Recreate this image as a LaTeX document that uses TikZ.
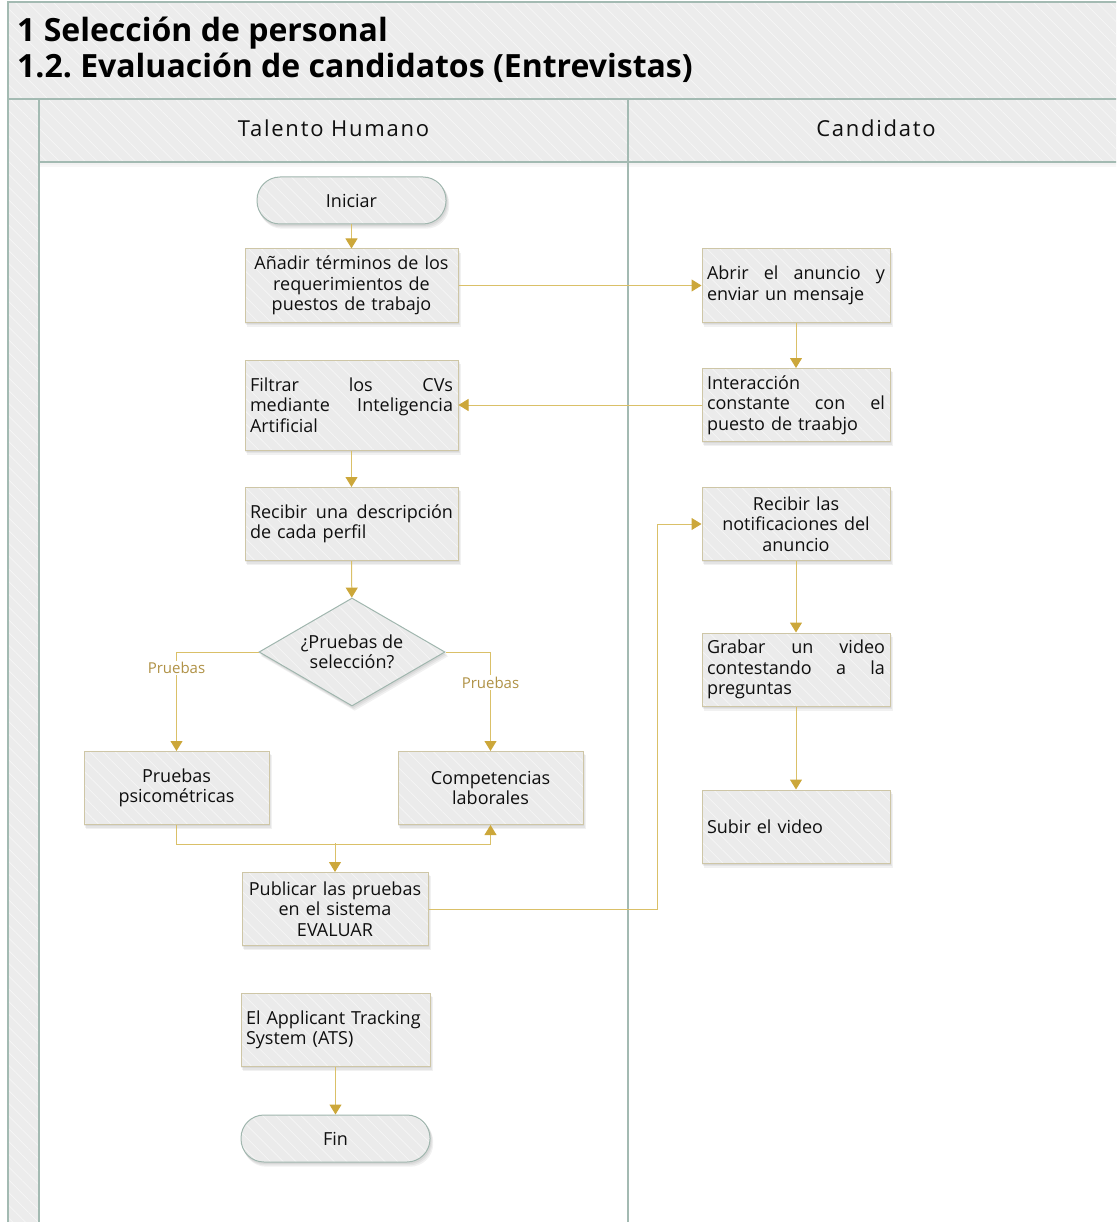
\documentclass[tikz,border=0pt]{standalone}
\usepackage{fontspec}
\setmainfont{Open Sans}
\newfontfamily\hdrfont[LetterSpace=8]{Open Sans}
\usetikzlibrary{shapes.geometric,arrows.meta,patterns.meta,backgrounds}
\frenchspacing

\definecolor{lanec}{RGB}{163,186,178}
\definecolor{panelfill}{RGB}{236,236,236}
\definecolor{nodefill}{RGB}{235,235,235}
\definecolor{hatchc}{RGB}{246,246,246}
\definecolor{boxline}{RGB}{206,198,166}
\definecolor{termline}{RGB}{160,182,174}
\definecolor{connc}{RGB}{218,192,104}
\definecolor{tipc}{RGB}{204,167,58}
\definecolor{labc}{RGB}{176,146,70}
\definecolor{txtc}{RGB}{15,15,15}

\tikzset{
  hatch/.style={postaction={pattern={Lines[angle=-45,distance=9pt,line width=0.7pt]},pattern color=hatchc}},
  panel/.style={fill=panelfill, hatch},
  % filled and hatched first, outline stroked last so the hatch never crosses it
  shapefill/.style={preaction={fill=nodefill},
                    preaction={pattern={Lines[angle=-45,distance=9pt,line width=0.7pt]},pattern color=hatchc}},
  body/.style={font=\fontsize{18}{20.5}\selectfont, text=txtc},
  proc/.style={body, shapefill, draw=boxline, line width=1pt,
               rectangle, inner xsep=5pt, inner ysep=0pt, minimum height=73pt},
  term/.style={body, shapefill, draw=termline, line width=1pt,
               rectangle, rounded corners=23pt, minimum width=189pt, minimum height=47pt, inner sep=0pt},
  decide/.style={body, shapefill, draw=termline, line width=1pt,
               diamond, aspect=1.72, inner sep=0pt, minimum width=186pt, minimum height=108pt, align=center},
  conn/.style={draw=connc, line width=1pt, -{Triangle[width=12pt,length=10pt,fill=tipc,color=tipc]}},
  branchlbl/.style={fill=white, text=labc, inner sep=1.5pt, font=\fontsize{15}{17}\selectfont},
  lane/.style={draw=lanec, line width=1.6pt},
  shadowfill/.style={fill=black, opacity=0.055},
}

\begin{document}
\begin{tikzpicture}[x=1pt,y=-1pt]
\useasboundingbox (0,0) rectangle (1116,1222);
\clip (0,0) rectangle (1116,1222);

% ---- pool frame, title bar, lane headers ----
\path[panel] (8,2) rectangle (1130,99);
\path[panel] (8,99) rectangle (39,1240);
\path[panel] (39,99) rectangle (1130,162);
\fill[black,opacity=0.05] (39,162) rectangle (1130,165);
\fill[black,opacity=0.03] (39,165) rectangle (1130,167);
\draw[lane] (1130,2) -- (8,2) -- (8,1240);
\draw[lane] (8,99) -- (1130,99);
\draw[lane] (39,99) -- (39,1240);
\draw[lane] (39,162) -- (1130,162);
\draw[lane] (628,99) -- (628,1240);

\node[anchor=base west, font=\bfseries\fontsize{32}{36}\selectfont, text=black, inner sep=0pt]
  (title1) at (17,42) {1 Selección de personal};
\node[anchor=base west, font=\bfseries\fontsize{32}{36}\selectfont, text=black, inner sep=0pt]
  (title2) at (17,78) {1.2. Evaluación de candidatos (Entrevistas)};
\node[anchor=base, font=\hdrfont\fontsize{22}{26}\selectfont, text=txtc, inner sep=0pt]
  (laneA) at (333.5,137) {Talento Humano};
\node[anchor=base, font=\hdrfont\fontsize{22}{26}\selectfont, text=txtc, inner sep=0pt]
  (laneB) at (876,137) {Candidato};

% ---- Talento Humano lane ----
\node[term] (start) at (351.5,200.5) {Iniciar};
\node[proc, text width=203pt, align=center] (add) at (351.5,285.5)
  {Añadir términos de los\\requerimientos de\\puestos de trabajo};
\node[proc, text width=203pt, align=left, minimum height=90pt] (filter) at (351.5,405)
  {Filtrar\hfill los\hfill CVs\\mediante\hfill Inteligencia\\Artificial};
\node[proc, text width=203pt, align=left] (desc) at (351.5,524)
  {Recibir\hfill una\hfill descripción\\de cada perfil};
\node[decide] (dec) at (352,652) {¿Pruebas de\\selección?};
\node[proc, text width=175pt, align=center] (psych) at (176.5,788)
  {Pruebas\\psicométricas};
\node[proc, text width=175pt, align=center] (comp) at (490.5,788)
  {Competencias\\laborales};
\node[proc, text width=176pt, align=center] (pub) at (335,909)
  {Publicar las pruebas\\en el sistema\\EVALUAR};
\node[proc, text width=179pt, align=left] (ats) at (335.5,1030)
  {El Applicant Tracking\\System (ATS)};
\node[term] (fin) at (335.5,1138.5) {Fin};

% ---- Candidato lane ----
\node[proc, text width=178pt, align=left] (open) at (796,285.5)
  {Abrir\hfill el\hfill anuncio\hfill y\\enviar un mensaje};
\node[proc, text width=178pt, align=left] (inter) at (796,405)
  {Interacción\\constante\hfill con\hfill el\\puesto de traabjo};
\node[proc, text width=178pt, align=center] (notif) at (796,524)
  {Recibir las\\notificaciones del\\anuncio};
\node[proc, text width=178pt, align=left] (rec) at (796,669.5)
  {Grabar\hfill un\hfill video\\contestando\hfill a\hfill la\\preguntas};
\node[proc, text width=178pt, align=left] (upl) at (796,826.5)
  {Subir el video};

% ---- soft shadows behind the shapes ----
\begin{scope}[on background layer]
  \foreach \n in {add,filter,desc,psych,comp,pub,ats,open,inter,notif,rec,upl}{
    \foreach \d in {1,2,3}{
      \fill[shadowfill] ([shift={(\d*0.9,\d*1.4)}]\n.south west)
        rectangle ([shift={(\d*0.9,\d*1.4)}]\n.north east);
    }
  }
  \foreach \n in {start,fin}{
    \foreach \d in {1,2,3}{
      \fill[shadowfill, rounded corners=23pt] ([shift={(\d*0.9,\d*1.4)}]\n.south west)
        rectangle ([shift={(\d*0.9,\d*1.4)}]\n.north east);
    }
  }
  \foreach \d in {1,2,3}{
    \fill[shadowfill] ([shift={(\d*0.9,\d*1.4)}]dec.north) -- ([shift={(\d*0.9,\d*1.4)}]dec.east)
      -- ([shift={(\d*0.9,\d*1.4)}]dec.south) -- ([shift={(\d*0.9,\d*1.4)}]dec.west) -- cycle;
  }
\end{scope}

% ---- connectors ----
\draw[conn] (start) -- (add);
\draw[conn] (add) -- (open);
\draw[conn] (open) -- (inter);
\draw[conn] (inter) -- (filter);
\draw[conn] (filter) -- (desc);
\draw[conn] (desc) -- (dec);
\draw[conn] (dec.west) -| node[branchlbl, pos=0.58] (lblL) {Pruebas} (psych.north);
\draw[conn] (dec.east) -| node[branchlbl, pos=0.655] (lblR) {Pruebas} (comp.north);
\draw[conn] (psych.south) -- ++(0,19) -| (comp.south);
\coordinate (merge) at (335,843);
\draw[conn] (merge) -- (pub.north);
\draw[conn] (pub.east) -- ++(229,0) |- (notif.west);
\draw[conn] (notif) -- (rec);
\draw[conn] (rec) -- (upl);
\draw[conn] (ats) -- (fin);
\end{tikzpicture}
\end{document}
